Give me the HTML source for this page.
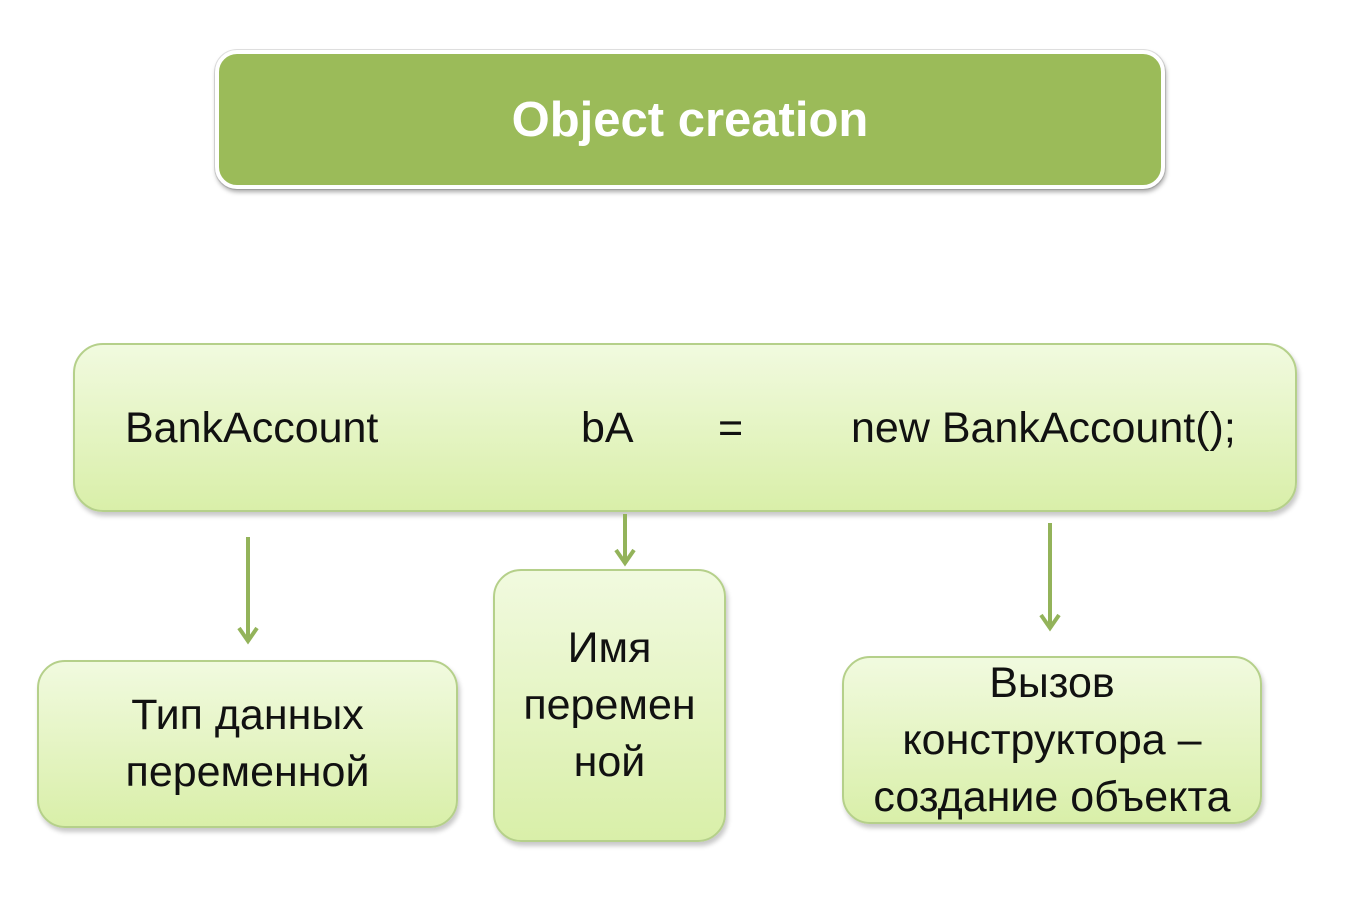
<!DOCTYPE html>
<html><head><meta charset="utf-8"><style>
body{margin:0;width:1345px;height:904px;background:#fff;position:relative;overflow:hidden;font-family:"Liberation Sans","DejaVu Sans",sans-serif;}
.b{position:absolute;box-sizing:border-box;border:2px solid #b5d08a;border-radius:28px;background:linear-gradient(#f1fadf,#d9efa9);box-shadow:2px 4px 5px rgba(0,0,0,.22);display:flex;align-items:center;justify-content:center;text-align:center;color:#111;font-size:43px;line-height:57px;white-space:nowrap;}
.t{position:absolute;left:215px;top:50px;width:950px;height:139px;box-sizing:border-box;border:4px solid #fff;border-radius:22px;background:#9bbb59;box-shadow:1px 3px 5px rgba(0,0,0,.35),0 0 0 1px #e3e3e3;color:#fff;font-weight:bold;font-size:49px;display:flex;align-items:center;justify-content:center;}
.s{position:absolute;font-size:43px;color:#111;top:404px;}
</style></head><body>
<div class="t">Object creation</div>
<div class="b" style="left:73px;top:343px;width:1224px;height:169px;border-radius:30px"></div>
<div class="s" style="left:125px">BankAccount</div>
<div class="s" style="left:581px">bA</div>
<div class="s" style="left:718px">=</div>
<div class="s" style="left:851px">new BankAccount();</div>
<svg width="1345" height="904" style="position:absolute;left:0;top:0">
<g stroke="#93b35a" stroke-width="4" fill="none">
<line x1="248" y1="537" x2="248" y2="640"/><polyline points="239,628 248,641 257,628"/>
<line x1="625" y1="514" x2="625" y2="562"/><polyline points="616,550 625,563 634,550"/>
<line x1="1050" y1="523" x2="1050" y2="627"/><polyline points="1041,615 1050,628 1059,615"/>
</g></svg>
<div class="b" style="left:37px;top:660px;width:421px;height:168px">Тип данных<br>переменной</div>
<div class="b" style="left:493px;top:569px;width:233px;height:273px">Имя<br>перемен<br>ной</div>
<div class="b" style="left:842px;top:656px;width:420px;height:168px">Вызов<br>конструктора –<br>создание объекта</div>
</body></html>
